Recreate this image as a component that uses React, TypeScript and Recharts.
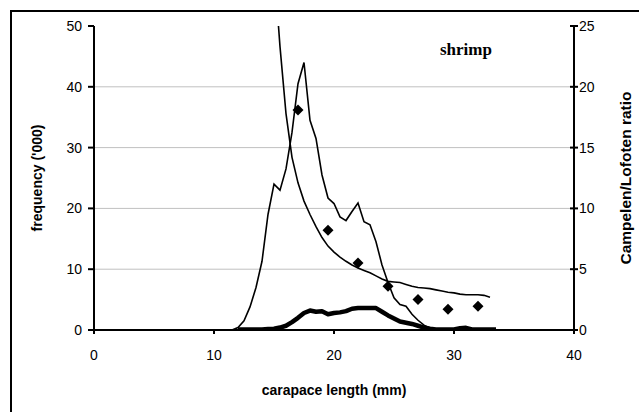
import React from 'react';
import { ComposedChart, Line, Scatter, XAxis, YAxis, CartesianGrid, Label } from 'recharts';

const FONT = '"Liberation Sans", Arial, Helvetica, sans-serif';

// Campelen length frequency ('000) by carapace length (mm)
const campelenLength = [8, 8.5, 9, 9.5, 10, 10.5, 11, 11.5, 12, 12.5, 13, 13.5, 14, 14.5, 15, 15.5, 16, 16.5, 17, 17.5, 18, 18.5, 19, 19.5, 20, 20.5, 21, 21.5, 22, 22.5, 23, 23.5, 24, 24.5, 25, 25.5, 26, 26.5, 27, 27.5, 28, 28.5, 29, 29.5, 30, 30.5, 31, 31.5, 32, 32.5, 33, 33.5];
const campelenFreq = [0, 0, 0, 0, 0, 0, 0, 0, 0.4, 1.5, 3.8, 7, 11.3, 19, 24, 23, 26.5, 32.5, 40.5, 44, 34.5, 31.5, 25.5, 21.7, 20.8, 18.6, 18, 19.5, 20.9, 17.8, 17.3, 14.5, 10.7, 7.8, 5.3, 4.2, 3.9, 2.6, 1.6, 0.8, 0.3, 0.1, 0, 0, 0, 0, 0, 0, 0, 0, 0, 0];

// Lofoten length frequency ('000)
const lofotenLength = [12, 12.5, 13, 13.5, 14, 14.5, 15, 15.5, 16, 16.5, 17, 17.5, 18, 18.5, 19, 19.5, 20, 20.5, 21, 21.5, 22, 22.5, 23, 23.5, 24, 24.5, 25, 25.5, 26, 26.5, 27, 27.5, 28, 28.5, 29, 29.5, 30, 30.5, 31, 31.5, 32, 32.5, 33, 33.5];
const lofotenFreq = [0.1, 0.1, 0.1, 0.1, 0.1, 0.15, 0.2, 0.4, 0.7, 1.3, 2.0, 2.8, 3.2, 3.0, 3.1, 2.6, 2.8, 2.9, 3.1, 3.5, 3.6, 3.6, 3.6, 3.6, 3.0, 2.4, 1.9, 1.4, 1.2, 1.0, 0.7, 0.4, 0.2, 0.1, 0.1, 0.1, 0.1, 0.3, 0.35, 0.1, 0.1, 0.1, 0.1, 0.1];

// Fitted Campelen/Lofoten ratio
const fitLength = [15, 15.5, 16, 16.5, 17, 17.5, 18, 18.5, 19, 19.5, 20, 20.5, 21, 21.5, 22, 22.5, 23, 23.5, 24, 24.5, 25, 25.5, 26, 26.5, 27, 27.5, 28, 28.5, 29, 29.5, 30, 30.5, 31, 31.5, 32, 32.5, 33];
const fitRatio = [30, 23.3, 17.8, 14.2, 12.1, 10.6, 9.5, 8.5, 7.6, 6.9, 6.4, 6.0, 5.65, 5.35, 5.1, 4.9, 4.7, 4.45, 4.2, 4.0, 3.95, 3.9, 3.75, 3.6, 3.5, 3.45, 3.4, 3.3, 3.2, 3.1, 3.05, 2.95, 2.9, 2.9, 2.9, 2.85, 2.7];

// Observed Campelen/Lofoten ratio
const obsLength = [17, 19.5, 22, 24.5, 27, 29.5, 32];
const obsRatio = [18.1, 8.2, 5.5, 3.6, 2.5, 1.7, 1.95];

const xTicks = [0, 10, 20, 30, 40];
const leftTicks = [0, 10, 20, 30, 40, 50];
const rightTicks = [0, 5, 10, 15, 20, 25];
const gridValues = [10, 20, 30, 40];

const campelenData = campelenLength.map((x, i) => ({ x, v: campelenFreq[i] }));
const lofotenData = lofotenLength.map((x, i) => ({ x, v: lofotenFreq[i] }));
const fitData = fitLength.map((x, i) => ({ x, v: fitRatio[i] }));
const obsData = obsLength.map((x, i) => ({ x, v: obsRatio[i] }));

const Diamond = (props: any) => {
  const { cx, cy } = props;
  if (cx == null || cy == null) return null;
  const r = 5.5;
  return (
    <polygon
      points={`${cx},${cy - r} ${cx + r},${cy} ${cx},${cy + r} ${cx - r},${cy}`}
      fill="#000"
      stroke="none"
    />
  );
};

const RightTick = (props: any) => {
  const { x, y, payload } = props;
  return (
    <g>
      <line x1={x - 8} x2={x} y1={y} y2={y} stroke="#000" strokeWidth={2} />
      <text x={x + 1} y={y} dy="0.35em" fontSize={14} fontFamily={FONT} fill="#000" textAnchor="start">
        {payload.value}
      </text>
    </g>
  );
};

const axisLine = { stroke: '#000', strokeWidth: 2 };
const tickLine = { stroke: '#000', strokeWidth: 2 };
const tickStyle = { fill: '#000', fontSize: 14, fontFamily: FONT };
const titleStyle = { fontFamily: FONT, fontSize: 14, fontWeight: 'bold', fill: '#000', textAnchor: 'middle' } as any;
const rightTitleStyle = { ...titleStyle, fontSize: 15.5 } as any;

export default function App() {
  return (
    <div style={{ position: 'absolute', left: 0, top: 0, width: 639, height: 412, overflow: 'hidden', background: '#fff' }}>
      <div
        style={{
          position: 'absolute',
          left: 10,
          top: 10,
          width: 700,
          height: 500,
          border: '2px solid #000',
          boxSizing: 'border-box',
        }}
      />
      <div style={{ position: 'absolute', left: 0, top: 0 }}>
        <ComposedChart width={639} height={412} margin={{ top: 26, right: 5, bottom: 12, left: 34 }}>
          <CartesianGrid
            yAxisId="left"
            vertical={false}
            horizontalValues={gridValues}
            stroke="#c0c0c0"
            strokeWidth={1}
          />
          <XAxis
            type="number"
            dataKey="x"
            domain={[0, 40]}
            ticks={xTicks}
            allowDataOverflow
            height={70}
            axisLine={axisLine}
            tickLine={tickLine}
            tickSize={4}
            tickMargin={16}
            tick={tickStyle}
            interval={0}
          >
            <Label value="carapace length (mm)" position="insideBottom" offset={5} style={titleStyle} />
          </XAxis>
          <YAxis
            yAxisId="left"
            type="number"
            domain={[0, 50]}
            ticks={leftTicks}
            allowDataOverflow
            width={60}
            axisLine={axisLine}
            tickLine={tickLine}
            tickSize={6}
            tickMargin={6}
            tick={tickStyle}
            interval={0}
          >
            <Label value="frequency ('000)" angle={-90} position="insideLeft" offset={3} style={titleStyle} />
          </YAxis>
          <YAxis
            yAxisId="right"
            orientation="right"
            type="number"
            domain={[0, 25]}
            ticks={rightTicks}
            allowDataOverflow
            width={60}
            axisLine={axisLine}
            tickLine={false}
            tickSize={0}
            tickMargin={4}
            tick={<RightTick />}
            interval={0}
          >
            <Label value="Campelen/Lofoten ratio" angle={-90} position="insideRight" offset={9} style={rightTitleStyle} />
          </YAxis>
          <Line
            yAxisId="left"
            data={lofotenData}
            dataKey="v"
            type="linear"
            stroke="#000"
            strokeWidth={4.5}
            strokeLinejoin="round"
            dot={false}
            activeDot={false}
            isAnimationActive={false}
          />
          <Line
            yAxisId="left"
            data={campelenData}
            dataKey="v"
            type="linear"
            stroke="#000"
            strokeWidth={1.6}
            dot={false}
            activeDot={false}
            isAnimationActive={false}
          />
          <Line
            yAxisId="right"
            data={fitData}
            dataKey="v"
            type="linear"
            stroke="#000"
            strokeWidth={1.6}
            dot={false}
            activeDot={false}
            isAnimationActive={false}
          />
          <Scatter yAxisId="right" data={obsData} dataKey="v" shape={Diamond} isAnimationActive={false} />
        </ComposedChart>
      </div>
      <div
        style={{
          position: 'absolute',
          left: 440,
          top: 40,
          fontFamily: '"Liberation Serif", "Times New Roman", serif',
          fontWeight: 'bold',
          fontSize: 17,
          color: '#000',
          lineHeight: '20px',
        }}
      >
        shrimp
      </div>
    </div>
  );
}
